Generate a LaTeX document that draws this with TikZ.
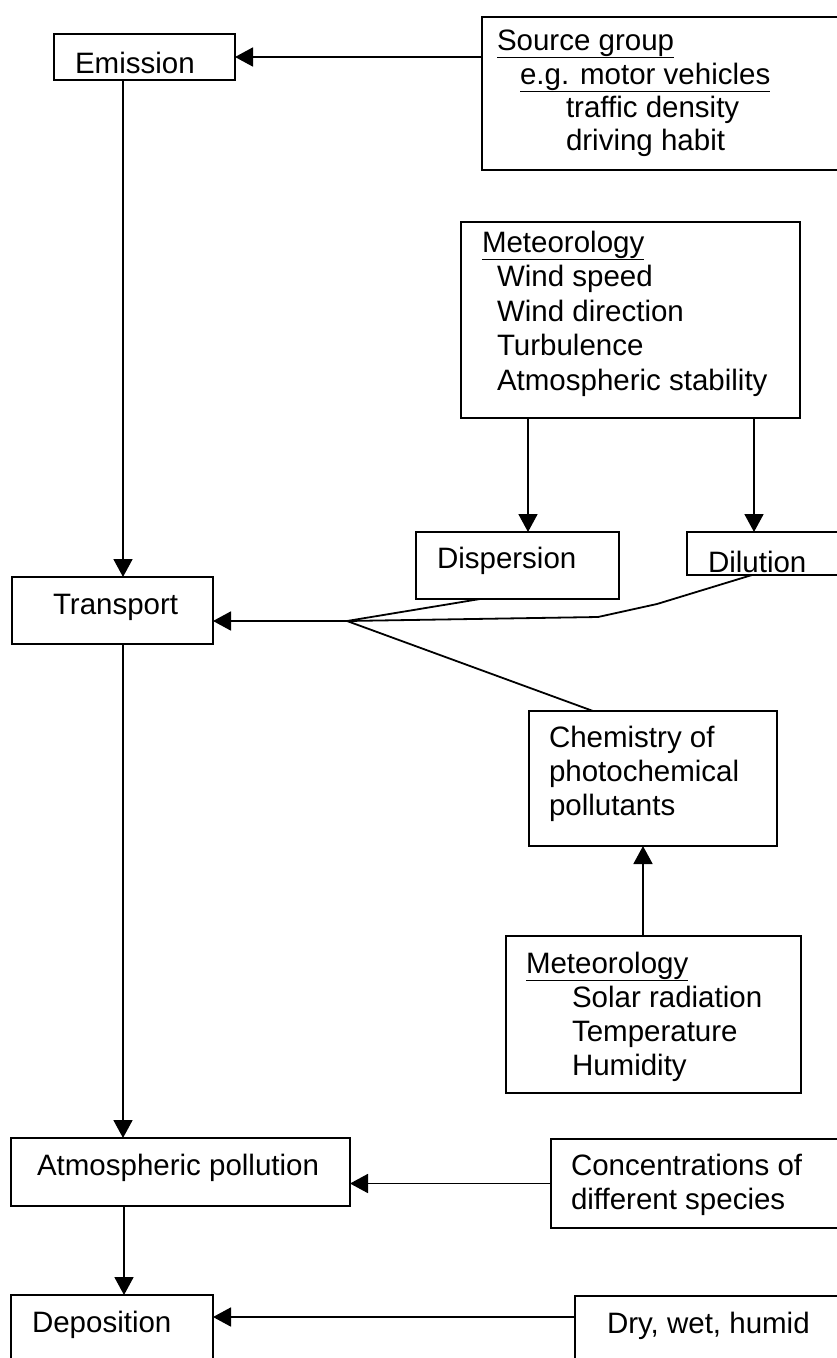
\documentclass[tikz,border=0pt]{standalone}
\usepackage{fontspec}
\setmainfont{Liberation Sans}
\usetikzlibrary{arrows.meta}
\begin{document}
\begin{tikzpicture}[x=1pt,y=-1pt,
  box/.style={draw, line width=2pt, inner sep=0pt, outer sep=0pt},
  txt/.style={font=\fontsize{29.5}{34.5}\selectfont, inner sep=0pt, outer sep=0pt, anchor=base west},
  arr/.style={line width=1.8pt, -{Triangle[length=18pt,width=19pt]}},
  ln/.style={line width=1.8pt}]
\useasboundingbox (0,0) rectangle (837,1358);
\clip (0,0) rectangle (837,1358);
% boxes
\node[box, minimum width=181pt, minimum height=46pt] (emis) at (144.5,57) {};
\node[box, minimum width=368pt, minimum height=153pt] (src) at (666,93.5) {};
\node[box, minimum width=339pt, minimum height=196pt] (met1) at (630.5,320) {};
\node[box, minimum width=203pt, minimum height=67pt] (disp) at (517.5,565.5) {};
\node[box, minimum width=163pt, minimum height=43pt] (dil) at (768.5,553.5) {};
\node[box, minimum width=201pt, minimum height=67pt] (trans) at (112.5,610.5) {};
\node[box, minimum width=248pt, minimum height=135pt] (chem) at (653,778.5) {};
\node[box, minimum width=295pt, minimum height=157pt] (met2) at (653.5,1014.5) {};
\node[box, minimum width=339pt, minimum height=68pt] (atm) at (180.5,1172) {};
\node[box, minimum width=299pt, minimum height=89pt] (conc) at (700.5,1183.5) {};
\node[box, minimum width=202pt, minimum height=75pt] (dep) at (112,1332.5) {};
\node[box, minimum width=275pt, minimum height=74pt] (dry) at (712.5,1333) {};
% texts
\node[txt] (emisT) at (75,73) {Emission};
\node[txt] (srcT1) at (497,50) {\underline{Source group}};
\node[txt] (srcT2) at (520,84) {\underline{e.g. motor vehicles}};
\node[txt] (srcT3) at (566,117) {traffic density};
\node[txt] (srcT4) at (566,150) {driving habit};
\node[txt] (met1T1) at (482,252) {\underline{Meteorology}};
\node[txt] (met1T2) at (497,286.5) {Wind speed};
\node[txt] (met1T3) at (497,321) {Wind direction};
\node[txt] (met1T4) at (497,355.5) {Turbulence};
\node[txt] (met1T5) at (497,390) {Atmospheric stability};
\node[txt] (dispT) at (437,568) {Dispersion};
\node[txt] (dilT) at (708,572) {Dilution};
\node[txt] (transT) at (53,614) {Transport};
\node[txt] (chemT1) at (549,747) {Chemistry of};
\node[txt] (chemT2) at (549,781) {photochemical};
\node[txt] (chemT3) at (549,815) {pollutants};
\node[txt] (met2T1) at (526,973) {\underline{Meteorology}};
\node[txt] (met2T2) at (572,1007) {Solar radiation};
\node[txt] (met2T3) at (572,1041) {Temperature};
\node[txt] (met2T4) at (572,1075) {Humidity};
\node[txt] (atmT) at (37,1175) {Atmospheric pollution};
\node[txt] (concT1) at (571,1175) {Concentrations of};
\node[txt] (concT2) at (571,1209) {different species};
\node[txt] (depT) at (32,1332) {Deposition};
\node[txt] (dryT) at (607,1333) {Dry, wet, humid};
% connectors
\coordinate (J) at (347,621);
\draw[arr] (src.west |- emis.east) -- (emis.east);
\draw[arr] ([xshift=-21.5pt]emis.south) -- ([xshift=-21.5pt]emis.south |- trans.north);
\draw[arr] ([xshift=-102.5pt]met1.south) -- ([xshift=-102.5pt]met1.south |- disp.north);
\draw[arr] ([xshift=123.5pt]met1.south) -- ([xshift=123.5pt]met1.south |- dil.north);
\draw[ln] ([xshift=-37.5pt]disp.south) -- (J);
\draw[ln] ([xshift=-16.5pt]dil.south) -- ++(-95,29) -- ++(-59,13) -- (J);
\draw[ln] (J) -- ([xshift=-60pt]chem.north);
\draw[arr] (J) -- (trans.east |- J);
\draw[arr] ([xshift=-10.5pt]met2.north) -- ([xshift=-10.5pt]met2.north |- chem.south);
\draw[arr] ([xshift=10.5pt]trans.south) -- ([xshift=10.5pt]trans.south |- atm.north);
\draw[arr] (conc.west) -- (conc.west -| atm.east);
\draw[arr] ([xshift=-56.5pt]atm.south) -- ([xshift=-56.5pt]atm.south |- dep.north);
\draw[arr] ([yshift=16pt]dry.west) -- ([yshift=16pt]dry.west -| dep.east);
\end{tikzpicture}
\end{document}
